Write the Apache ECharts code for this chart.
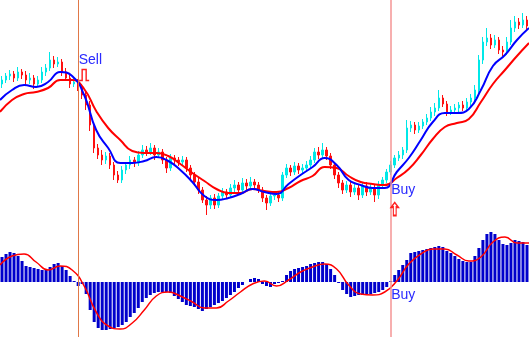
<!DOCTYPE html>
<html><head><meta charset="utf-8">
<script src="https://cdn.jsdelivr.net/npm/echarts@6/dist/echarts.min.js"></script>
<style>html,body{margin:0;padding:0;background:#fff}#c{width:529px;height:337px}</style>
</head><body><div id="c"></div>
<script>
var opens = [136,140,144,146,142,148,145,140,142,136,140,148,152,160,156,158,148,142,136,138,132,125,115,95,72,65,60,64,55,45,40,50,55,60,57,65,70,68,72,65,68,60,52,62,60,58,60,52,45,38,30,20,15,22,15,24,28,25,32,35,30,37,34,38,35,30,22,17,24,25,22,45,52,48,54,50,52,55,60,68,65,70,64,55,45,37,30,35,28,32,25,34,28,32,25,35,40,48,55,62,65,70,92,95,90,94,98,102,108,112,122,116,108,110,112,115,112,118,122,130,160,178,182,175,180,170,168,178,192,198,195,200];
var closes = [140,144,146,142,148,145,140,142,136,140,148,152,160,156,158,148,142,136,138,132,125,115,95,72,65,60,64,55,45,40,50,55,60,57,65,70,68,72,65,68,60,52,62,60,58,60,52,45,38,30,20,15,22,15,24,28,25,32,35,30,37,34,38,35,30,22,17,24,25,22,45,52,48,54,50,52,55,60,68,65,70,64,55,45,37,30,35,28,32,25,34,28,32,25,35,40,48,55,62,65,70,92,95,90,94,98,102,108,112,122,116,108,110,112,115,112,118,122,130,160,178,182,175,180,170,168,178,192,198,195,200,194];
var lows = [132,137,140,138,139,141,135,136,131,133,137,144,149,152,153,144,139,132,133,129,121,110,89,67,61,55,56,51,40,37,37,46,51,53,54,62,64,65,60,62,56,47,49,55,54,55,48,40,34,26,17,5,11,11,12,21,21,22,28,25,27,30,31,31,27,18,10,14,20,18,19,42,44,45,46,47,48,52,57,61,62,60,51,41,32,26,27,23,25,20,22,24,25,18,21,32,37,45,52,59,61,67,88,86,87,91,95,99,104,109,113,104,105,107,108,109,109,114,119,127,156,174,171,172,166,164,165,175,188,191,192,190];
var highs = [144,147,150,149,153,151,149,147,145,144,153,156,168,164,163,161,152,145,142,141,136,128,119,98,76,70,68,67,58,49,54,58,64,63,69,75,74,77,75,72,71,63,66,65,63,64,63,55,48,42,33,24,25,26,27,32,31,36,40,38,42,41,43,41,38,33,25,28,28,28,48,56,55,58,57,56,59,64,72,73,77,73,67,58,48,40,39,38,36,35,37,38,36,35,39,43,51,59,65,69,73,100,99,98,98,101,106,113,117,130,125,119,114,116,118,119,122,126,135,165,183,192,186,185,183,174,183,200,204,202,207,204];
var fastMA = [120,130,135,133,138,148,144,125,90,72,57,57,59,63,59,50,38,24,20,22,26,31,28,26,36,45,53,62,55,40,35,32,32,48,62,80,98,107,107,111,130,154,165,180,192];
var slowMA = [108,120,126,128,132,140,140,131,109,92,80,69,67,67,64,56,47,39,31,27,27,31,29,28,32,39,44,53,52,44,38,36,35,42,51,65,81,93,97,101,118,136,150,164,177];
var macdHist = [25,28,30,29,26,21,16,15,14,13,12,12,15,18,19,16,12,6,1,-4,-2,-12,-28,-40,-46,-48,-48,-47,-46,-45,-43,-40,-35,-31,-26,-20,-16,-13,-11,-10,-10,-10,-11,-14,-17,-20,-23,-24,-25,-27,-29,-27,-25,-23,-21,-19,-16,-13,-10,-6,-3,0,3,4,3,-2,-4,-5,-2,-1,1,7,11,13,14,15,16,18,19,20,20,18,13,7,-1,-8,-12,-15,-14,-13,-13,-12,-12,-11,-10,-8,-5,1,7,12,17,22,29,30,31,32,33,34,35,36,35,31,29,26,23,21,20,20,26,34,42,48,50,48,42,38,37,39,42,41,40,37];
var macdSignal = [17,26,28,20,12,16,12,-4,-30,-44,-47,-41,-28,-14,-10,-14,-20,-26,-26,-19,-10,-2,1,-4,2,10,15,18,13,-3,-12,-13,-10,1,18,28,33,33,27,21,25,40,45,39,39];
var signalLabels = ["Sell","Buy","Buy"];

var candleCats = closes.map(function(_, i){ return i; });
var lineCats = fastMA.map(function(_, i){ return i; });
var ohlc = closes.map(function(c, i){ return [opens[i], c, lows[i], highs[i]]; });

var chart = echarts.init(document.getElementById('c'), null, {renderer:'canvas'});
var hidden = {show:false};
var gapPath = 'path://M0,10 L3,10 L3,0 L7,0 L7,10 L10,10';
var arrowPath = 'path://M5,0 L10,5 L7,5 L7,14 L3,14 L3,5 L0,5 Z';
chart.setOption({
  animation:false,
  backgroundColor:'#ffffff',
  grid:[{left:0,right:0,top:0,height:220},{left:0,right:0,top:220,height:117}],
  xAxis:[
    {type:'category',data:candleCats,gridIndex:0,boundaryGap:true,show:false},
    {type:'category',data:lineCats,gridIndex:0,boundaryGap:false,show:false},
    {type:'category',data:candleCats,gridIndex:1,boundaryGap:true,show:false},
    {type:'category',data:lineCats,gridIndex:1,boundaryGap:false,show:false}
  ],
  yAxis:[
    {type:'value',gridIndex:0,min:0,max:220,show:false,splitLine:hidden},
    {type:'value',gridIndex:1,min:-55,max:62,show:false,splitLine:hidden}
  ],
  series:[
    {type:'candlestick',xAxisIndex:0,yAxisIndex:0,data:ohlc,barWidth:2,
     itemStyle:{color:'#00e8e8',color0:'#ff1010',borderColor:'#00e8e8',borderColor0:'#ff1010',borderWidth:1},
     markLine:{silent:true,symbol:'none',label:{show:false},
       data:[{xAxis:18.75,lineStyle:{color:'#e07848',width:1,type:'solid'}},
             {xAxis:97,lineStyle:{color:'#f49494',width:1.5,type:'solid'}}]},
     markPoint:{silent:true,data:[
       {coord:[19,160],symbol:'circle',symbolSize:1,itemStyle:{color:'rgba(0,0,0,0)'},
        label:{show:true,formatter:signalLabels[0],position:'right',distance:0,color:'#2a2aff',fontSize:14,fontFamily:'Liberation Sans'}},
       {coord:[20,145],symbol:gapPath,symbolSize:[10,11],symbolOffset:[2,0],
        itemStyle:{color:'rgba(0,0,0,0)',borderColor:'#ff2020',borderWidth:1.5},label:{show:false}},
       {coord:[97,30],symbol:'circle',symbolSize:1,itemStyle:{color:'rgba(0,0,0,0)'},
        label:{show:true,formatter:signalLabels[1],position:'right',distance:0,color:'#2a2aff',fontSize:14,fontFamily:'Liberation Sans'}},
       {coord:[98,11],symbol:arrowPath,symbolSize:[7,13],
        itemStyle:{color:'rgba(0,0,0,0)',borderColor:'#ff2020',borderWidth:1.5},label:{show:false}}
     ]}
    },
    {type:'line',xAxisIndex:1,yAxisIndex:0,data:slowMA,smooth:true,symbol:'none',
     lineStyle:{color:'#ff0000',width:2}},
    {type:'line',xAxisIndex:1,yAxisIndex:0,data:fastMA,smooth:true,symbol:'none',
     lineStyle:{color:'#0000ff',width:2}},
    {type:'bar',xAxisIndex:2,yAxisIndex:1,data:macdHist,barWidth:3,
     itemStyle:{color:'#0000cc'},
     markLine:{silent:true,symbol:'none',label:{show:false},
       data:[{xAxis:18.75,lineStyle:{color:'#e07848',width:1,type:'solid'}},
             {xAxis:97,lineStyle:{color:'#f49494',width:1.5,type:'solid'}}]},
     markPoint:{silent:true,data:[
       {coord:[97,-13],symbol:'circle',symbolSize:1,itemStyle:{color:'rgba(0,0,0,0)'},
        label:{show:true,formatter:signalLabels[2],position:'right',distance:0,color:'#2a2aff',fontSize:14,fontFamily:'Liberation Sans'}}
     ]}
    },
    {type:'line',xAxisIndex:3,yAxisIndex:1,data:macdSignal,smooth:true,symbol:'none',
     lineStyle:{color:'#ff0000',width:1.5}}
  ]
});
</script></body></html>
